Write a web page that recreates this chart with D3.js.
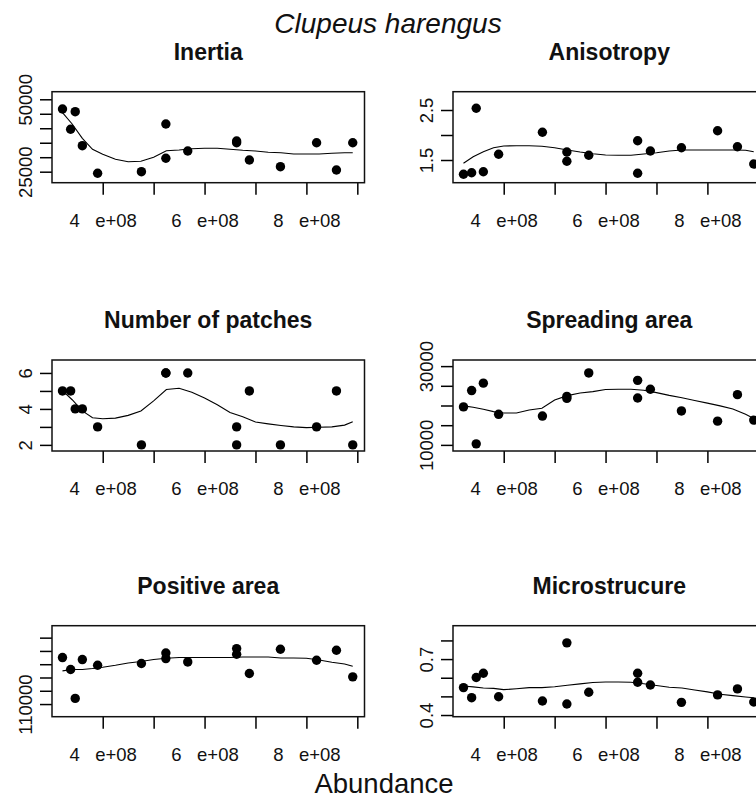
<!DOCTYPE html>
<html>
<head>
<meta charset="utf-8">
<script src="https://cdn.jsdelivr.net/npm/d3@7"></script>
<style>
  html, body { margin: 0; padding: 0; background: #fff; }
  svg { display: block; font-family: "Liberation Sans", Arial, Helvetica, sans-serif; }
  .tick text { white-space: pre; }
</style>
</head>
<body>
<svg id="chart" width="756" height="798"></svg>
<script>
// Abundance of each survey (shared x for every panel)
const abundance = [3.21e8, 3.37e8, 3.46e8, 3.60e8, 3.90e8, 4.76e8, 5.24e8, 5.24e8,
                   5.67e8, 6.63e8, 6.63e8, 6.88e8, 7.49e8, 8.20e8, 8.59e8, 8.91e8];

// Spatial indicators, one value per survey
const inertia     = [46650, 39640, 45720, 33980, 24450, 25000, 41470, 29630,
                     32150, 35600, 35000, 29040, 26730, 35010, 25590, 35010];
const anisotropy  = [1.214, 1.246, 2.534, 1.266, 1.614, 2.054, 1.66, 1.474,
                     1.594, 1.886, 1.234, 1.68, 1.746, 2.086, 1.766, 1.42];
const patches     = [5, 5, 4, 4, 3, 2, 6, 6, 6, 3, 2, 5, 2, 3, 5, 2];
const spreading   = [19650, 23790, 10260, 25680, 17760, 17320, 22300, 21800,
                     28270, 26380, 21900, 24130, 18620, 16030, 22760, 16290];
const positive    = [145010, 136010, 114270, 143510, 139240, 140510, 148460, 144260,
                     141710, 151750, 147480, 133010, 151230, 142980, 150480, 130470];
const microstruct = [0.547, 0.493, 0.601, 0.624, 0.498, 0.475, 0.787, 0.459,
                     0.522, 0.624, 0.576, 0.561, 0.468, 0.508, 0.540, 0.470];

// Smoothed (loess) curves evaluated on a grid of abundance values
const fitX = [3.21e8, 3.4e8, 3.6e8, 3.8e8, 4.0e8, 4.25e8, 4.5e8, 4.75e8, 5.0e8, 5.25e8,
              5.5e8, 5.75e8, 6.0e8, 6.25e8, 6.5e8, 6.75e8, 7.0e8, 7.25e8, 7.5e8, 7.75e8,
              8.0e8, 8.25e8, 8.5e8, 8.75e8, 8.91e8];
const inertiaFit   = [45370, 41470, 36530, 32740, 31010, 29290, 28450, 28590, 29970, 32250,
                      32490, 32940, 33080, 33080, 32740, 32390, 32150, 31700, 31560, 31110,
                      31110, 31110, 31350, 31560, 31560];
const anisoFit     = [1.434, 1.566, 1.666, 1.746, 1.78, 1.786, 1.786, 1.774, 1.746, 1.70,
                      1.66, 1.626, 1.60, 1.594, 1.594, 1.62, 1.646, 1.68, 1.70, 1.70,
                      1.70, 1.70, 1.70, 1.694, 1.666];
const patchesFit   = [5.02, 4.51, 3.89, 3.51, 3.45, 3.49, 3.64, 3.89, 4.45, 5.08,
                      5.15, 4.93, 4.61, 4.23, 3.80, 3.56, 3.27, 3.17, 3.08, 3.00,
                      2.96, 2.98, 3.00, 3.10, 3.29];
const spreadingFit = [19910, 19570, 19050, 18440, 18100, 18100, 18870, 19310, 21380, 22500,
                      23190, 23530, 24050, 24130, 24130, 23870, 23270, 22580, 21980, 21290,
                      20610, 19910, 19130, 17760, 16720];
const positiveFit  = [134970, 136010, 136010, 136760, 137740, 139240, 140960, 142010, 143510, 144480,
                      145010, 145010, 145010, 145010, 145010, 145460, 145460, 145460, 144710, 144710,
                      144480, 143210, 141480, 140210, 138490];
const microFit     = [0.556, 0.551, 0.545, 0.543, 0.536, 0.541, 0.547, 0.547, 0.552, 0.560,
                      0.567, 0.574, 0.577, 0.577, 0.576, 0.568, 0.558, 0.549, 0.545, 0.534,
                      0.524, 0.511, 0.504, 0.497, 0.493];

// Axis ticks and their printed labels (blank where the label is not printed)
const xTicks = [4e8, 5e8, 6e8, 7e8, 8e8, 9e8];
const xTickLabels = ["4   e+08", "", "6   e+08", "", "8   e+08", ""];

const inertiaTicks    = [25000, 30000, 35000, 40000, 45000, 50000];
const inertiaLabels   = ["25000", "", "", "", "", "50000"];
const anisoTicks      = [1.5, 2.0, 2.5];
const anisoLabels     = ["1.5", "", "2.5"];
const patchesTicks    = [2, 3, 4, 5, 6];
const patchesLabels   = ["2", "", "4", "", "6"];
const spreadingTicks  = [10000, 15000, 20000, 25000, 30000];
const spreadingLabels = ["10000", "", "", "", "30000"];
const positiveTicks   = [110000, 120000, 130000, 140000, 150000, 160000];
const positiveLabels  = ["110000", "", "", "", "", ""];
const microTicks      = [0.4, 0.5, 0.6, 0.7, 0.8];
const microLabels     = ["0.4", "", "", "0.7", ""];

const panelTitles = ["Inertia", "Anisotropy", "Number of patches",
                     "Spreading area", "Positive area", "Microstrucure"];

// Panel definitions, row by row
const panels = [
  { title: panelTitles[0], y: inertia,     fit: inertiaFit,   ticks: inertiaTicks,   labels: inertiaLabels,   domain: [21200, 52620] },
  { title: panelTitles[1], y: anisotropy,  fit: anisoFit,     ticks: anisoTicks,     labels: anisoLabels,     domain: [1.046, 2.866] },
  { title: panelTitles[2], y: patches,     fit: patchesFit,   ticks: patchesTicks,   labels: patchesLabels,   domain: [1.66, 6.72] },
  { title: panelTitles[3], y: spreading,   fit: spreadingFit, ticks: spreadingTicks, labels: spreadingLabels, domain: [8448, 31552] },
  { title: panelTitles[4], y: positive,    fit: positiveFit,  ticks: positiveTicks,  labels: positiveLabels,  domain: [100480, 169000] },
  { title: panelTitles[5], y: microstruct, fit: microFit,     ticks: microTicks,     labels: microLabels,     domain: [0.391, 0.879] }
];

const svg = d3.select("#chart");

// Layout of the 3 x 2 grid of plotting regions
const colLeft = [52, 453];
const plotW = 312.5;
const rowTop = [91.7, 360, 625.7];
const plotH = 91;
const tickLen = 12;
const xDomain = [3.004e8, 9.141e8];

panels.forEach((p, i) => {
  const col = i % 2, row = Math.floor(i / 2);
  const left = colLeft[col], top = rowTop[row];
  const g = svg.append("g").attr("transform", `translate(${left},${top})`);

  const x = d3.scaleLinear().domain(xDomain).range([0, plotW]);
  const y = d3.scaleLinear().domain(p.domain).range([plotH, 0]);

  // x axis
  const xAxis = d3.axisBottom(x)
    .tickValues(xTicks)
    .tickFormat((d, k) => xTickLabels[k])
    .tickSize(tickLen)
    .tickSizeOuter(0);
  const gx = g.append("g").attr("transform", `translate(0,${plotH})`).call(xAxis);
  gx.select(".domain").remove();
  gx.selectAll(".tick line").attr("stroke", "#000").attr("stroke-width", 1.5);
  gx.selectAll(".tick text")
    .attr("y", 44).attr("dy", null)
    .attr("fill", "#111")
    .style("font-size", "18.5px")
    .style("font-family", "'Liberation Sans', Arial, sans-serif");

  // y axis
  const yAxis = d3.axisLeft(y)
    .tickValues(p.ticks)
    .tickFormat((d, k) => p.labels[k])
    .tickSize(tickLen)
    .tickSizeOuter(0);
  const gy = g.append("g").call(yAxis);
  gy.select(".domain").remove();
  gy.selectAll(".tick line").attr("stroke", "#000").attr("stroke-width", 1.5);
  gy.selectAll(".tick text")
    .attr("x", null).attr("dy", null)
    .attr("text-anchor", "middle")
    .attr("transform", "translate(-20.5,0) rotate(-90)")
    .attr("fill", "#111")
    .style("font-size", "18.5px")
    .style("font-family", "'Liberation Sans', Arial, sans-serif");

  // plot box
  g.append("rect")
    .attr("x", 0).attr("y", 0).attr("width", plotW).attr("height", plotH)
    .attr("fill", "none").attr("stroke", "#111").attr("stroke-width", 1.5);

  // smoothed curve
  const line = d3.line().x((d, k) => x(fitX[k])).y(d => y(d));
  g.append("path")
    .datum(p.fit)
    .attr("d", line)
    .attr("fill", "none")
    .attr("stroke", "#000")
    .attr("stroke-width", 1.1);

  // observations
  g.selectAll("circle.obs")
    .data(p.y)
    .join("circle")
    .attr("class", "obs")
    .attr("cx", (d, k) => x(abundance[k]))
    .attr("cy", d => y(d))
    .attr("r", 4.7)
    .attr("fill", "#000");

  // panel title
  g.append("text")
    .attr("x", plotW / 2).attr("y", -32)
    .attr("text-anchor", "middle")
    .style("font-weight", "bold")
    .style("font-size", "23px")
    .attr("fill", "#111")
    .text(p.title);
});

// overall title and shared x label
svg.append("text")
  .attr("x", 388).attr("y", 33)
  .attr("text-anchor", "middle")
  .style("font-style", "italic")
  .style("font-size", "28px")
  .attr("fill", "#111")
  .text("Clupeus harengus");

svg.append("text")
  .attr("x", 384).attr("y", 793)
  .attr("text-anchor", "middle")
  .style("font-size", "27.5px")
  .attr("fill", "#111")
  .text("Abundance");
</script>
</body>
</html>
